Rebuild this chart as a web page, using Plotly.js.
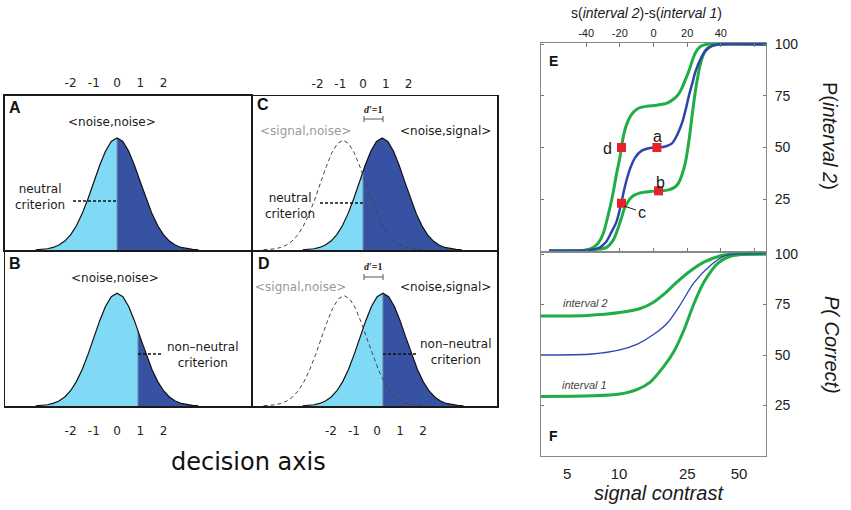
<!DOCTYPE html>
<html>
<head>
<meta charset="utf-8">
<script src="https://cdn.plot.ly/plotly-3.0.1.min.js"></script>
<style>html,body{margin:0;padding:0;background:#fff;}#chart{width:851px;height:510px;}</style>
</head>
<body>
<div id="chart"></div>
<script>
// ---------- data: decision-axis panels (A-D) ----------
const profileOffset = [-3.5,-3.25,-3,-2.75,-2.5,-2.25,-2,-1.75,-1.5,-1.25,-1,-0.75,-0.5,-0.25,0,0.25,0.5,0.75,1,1.25,1.5,1.75,2,2.25,2.5,2.75,3,3.25,3.5];
const profileHeight = [0.0022,0.0051,0.0111,0.0228,0.0439,0.0796,0.1353,0.2163,0.3247,0.4578,0.6065,0.7548,0.8825,0.9692,1,0.9692,0.8825,0.7548,0.6065,0.4578,0.3247,0.2163,0.1353,0.0796,0.0439,0.0228,0.0111,0.0051,0.0022];
const panelNames = ['A','C','B','D'];
const solidMean = [0, 0.84, 0, 0.26];
const criterion = [0, 0, 0.9, 0.26];
const criterionHeight = [1.0, 0.70, 0.667, 1.0];
const dashedMean = [null, -0.88, null, -1.43];
const dashedPeak = [null, 0.98, null, 0.98];
const decisionTicks = [-2,-1,0,1,2];
const decisionTickText = ['-2','-1','0','1','2'];

// ---------- data: panel E (x = s(interval 2)-s(interval 1), y = P(interval 2) %) ----------
const eBlueX = [-62,-40,-32,-28,-25,-22,-20,-19,-17,-14,-11,-7,-2,2,7,11,14,17,19,21,23,25,28,31,35,40,67];
const eBlueY = [0,0.2,1.5,4.5,9,14,20,23.5,31,39.5,45,48.5,49.8,50,50.5,52,56,62,68,75,81,87,93,97,99.3,100,100];
const eUpperX = [-62,-40,-36,-33,-30,-27,-24,-22,-20,-19,-18,-16,-13,-9,-4,2,8,12,15,17,19,21,23,25,28,32,67];
const eUpperY = [0,0.3,1.5,3.5,8,17,28,37,45,50,55,61,66,69,70,70.5,71.5,73.5,76,79,83,87,92,96,99,100,100];
const eLowerX = [-62,-40,-32,-28,-24,-21,-19,-17,-13,-8,-2,3,9,13,15,17,19,21,23,25,28,31,35,40,67];
const eLowerY = [0,0.2,0.8,1.5,5,11,16,21,26,28,28.7,29,29.5,31,33,37,43,53,66,78,91,97,99.3,100,100];
const pointLabels = ['a','b','c','d'];
const pointX = [2,3,-19,-19];
const pointY = [50,29,23,50];

// ---------- data: panel F (x = signal contrast, y = P(Correct) %) ----------
const fInt2X = [3.47,6.5,10.1,13.3,15.8,18.5,20.8,25.1,31.2,40.9,50,73.3];
const fInt2Y = [69.3,69.6,71,73,76,80.5,84.6,90.6,96,99.5,100,100];
const fMidX = [3.47,7.03,10.1,12.8,15.8,19.2,22.8,27.2,34.3,40.9,50,73.3];
const fMidY = [50,50.5,52.5,55.4,60,66,75,85.6,94.6,99,100,100];
const fInt1X = [3.47,7,10.1,12.8,15.2,18.1,20.8,23.8,27.2,31.2,37.7,45,73.3];
const fInt1Y = [29.5,29.8,30.7,33,36.6,44,51.5,62,75,86,95.5,99,100];
const contrastTicks = [5,10,25,50];
const pTicks = [25,50,75,100];
const diffTicks = [-40,-20,0,20,40,60];
const diffTickText = ['-40','-20','0','20','40',''];

// ---------- helpers ----------
const W = 851, H = 510;
const px = x => x / W;
const py = y => 1 - y / H;
const CYAN = '#80daf6', NAVY = '#3752a2', GREEN = '#1fae45', BLUE = '#2f45ad', RED = '#e8222c';
const traces = [];
const axisSuffix = ['', '2', '3', '4'];

panelNames.forEach((name, i) => {
  const xa = 'x' + axisSuffix[i], ya = 'y' + axisSuffix[i];
  const m = solidMean[i], c = criterion[i], hc = criterionHeight[i];
  const xs = profileOffset.map(o => m + o);
  const lx = [], ly = [], rx = [c], ry = [hc];
  xs.forEach((x, k) => {
    if (x < c - 1e-9) { lx.push(x); ly.push(profileHeight[k]); }
    else if (x > c + 1e-9) { rx.push(x); ry.push(profileHeight[k]); }
  });
  lx.push(c); ly.push(hc);
  traces.push({x: lx, y: ly, xaxis: xa, yaxis: ya, mode: 'lines', fill: 'tozeroy', fillcolor: CYAN, line: {width: 0, color: CYAN}, hoverinfo: 'skip'});
  traces.push({x: rx, y: ry, xaxis: xa, yaxis: ya, mode: 'lines', fill: 'tozeroy', fillcolor: NAVY, line: {width: 0, color: NAVY}, hoverinfo: 'skip'});
  traces.push({x: [c, c], y: [0, hc], xaxis: xa, yaxis: ya, mode: 'lines', line: {width: 1, color: '#6f86a8'}, hoverinfo: 'skip'});
  traces.push({x: xs, y: profileHeight, xaxis: xa, yaxis: ya, mode: 'lines', line: {width: 1.2, color: '#111'}, hoverinfo: 'skip'});
  if (dashedMean[i] !== null) {
    traces.push({x: profileOffset.map(o => dashedMean[i] + o), y: profileHeight.map(h => h * dashedPeak[i]),
      xaxis: xa, yaxis: ya, mode: 'lines', line: {width: 1, color: '#444', dash: '4px,3px'}, hoverinfo: 'skip'});
  }
});

// panel E
traces.push({x: eUpperX, y: eUpperY, xaxis: 'x5', yaxis: 'y5', mode: 'lines', line: {color: GREEN, width: 3, shape: 'spline', smoothing: 0.8}});
traces.push({x: eLowerX, y: eLowerY, xaxis: 'x5', yaxis: 'y5', mode: 'lines', line: {color: GREEN, width: 3, shape: 'spline', smoothing: 0.8}});
traces.push({x: eBlueX, y: eBlueY, xaxis: 'x5', yaxis: 'y5', mode: 'lines', line: {color: BLUE, width: 2.5, shape: 'spline', smoothing: 0.8}});
traces.push({x: pointX, y: pointY, xaxis: 'x5', yaxis: 'y5', mode: 'markers', marker: {symbol: 'square', size: 9, color: RED}, text: pointLabels, hoverinfo: 'text'});
// panel F
traces.push({x: fInt2X, y: fInt2Y, xaxis: 'x6', yaxis: 'y6', mode: 'lines', line: {color: GREEN, width: 3, shape: 'spline', smoothing: 0.8}});
traces.push({x: fInt1X, y: fInt1Y, xaxis: 'x6', yaxis: 'y6', mode: 'lines', line: {color: GREEN, width: 3, shape: 'spline', smoothing: 0.8}});
traces.push({x: fMidX, y: fMidY, xaxis: 'x6', yaxis: 'y6', mode: 'lines', line: {color: BLUE, width: 1.3, shape: 'spline', smoothing: 0.8}});

const LFONT = 'DejaVu Sans, sans-serif';
const RFONT = 'Liberation Sans, Arial, sans-serif';

function boxX(domain, range, side, standoff, lw) {
  return {domain: domain, range: range, side: side, tickvals: decisionTicks, ticktext: decisionTickText,
    showline: true, mirror: true, linecolor: '#1a1a1a', linewidth: lw, ticks: '', showgrid: false, zeroline: false,
    tickfont: {family: LFONT, size: 12, color: '#222'}, ticklabelstandoff: standoff, fixedrange: true};
}
function boxY(domain, lw) {
  return {domain: domain, range: [0, 1.375], showline: true, mirror: true, linecolor: '#1a1a1a', linewidth: lw,
    showticklabels: false, ticks: '', showgrid: false, zeroline: false, fixedrange: true};
}
const topDom = [py(250), py(96)], botDom = [py(406), py(251)];
const leftDom = [px(5), px(251)], midDom = [px(253), px(497)];

const layout = {
  width: W, height: H, margin: {l: 0, r: 0, t: 0, b: 0}, showlegend: false,
  paper_bgcolor: '#fff', plot_bgcolor: 'rgba(0,0,0,0)',
  xaxis: Object.assign(boxX(leftDom, [-4.82, 5.76], 'top', 2, 2), {anchor: 'y'}),
  yaxis: Object.assign(boxY(topDom, 2), {anchor: 'x'}),
  xaxis2: Object.assign(boxX(midDom, [-4.84, 5.89], 'top', 2, 1.5), {anchor: 'y2'}),
  yaxis2: Object.assign(boxY(topDom, 1.5), {anchor: 'x2'}),
  xaxis3: Object.assign(boxX(leftDom, [-4.82, 5.76], 'bottom', 13, 1.5), {anchor: 'y3'}),
  yaxis3: Object.assign(boxY(botDom, 1.5), {anchor: 'x3'}),
  xaxis4: Object.assign(boxX(midDom, [-5.39, 5.22], 'bottom', 13, 1.5), {anchor: 'y4'}),
  yaxis4: Object.assign(boxY(botDom, 1.5), {anchor: 'x4'}),
  xaxis5: {domain: [px(541), px(766)], range: [-66.8, 66.8], side: 'top', anchor: 'y5',
    tickvals: diffTicks, ticktext: diffTickText, ticks: 'inside', ticklen: 4, tickcolor: '#777',
    showline: true, mirror: 'ticks', linecolor: '#888', linewidth: 1, showgrid: false, zeroline: false,
    tickfont: {family: RFONT, size: 11, color: '#222'}, ticklabelstandoff: 1, fixedrange: true},
  yaxis5: {domain: [py(252), py(43)], range: [-0.6, 100.6], side: 'right', anchor: 'x5',
    tickvals: pTicks, ticks: 'inside', ticklen: 3, tickcolor: '#777',
    showline: true, mirror: 'ticks', linecolor: '#888', linewidth: 1, showgrid: false, zeroline: false,
    tickfont: {family: RFONT, size: 14, color: '#222'}, ticklabelstandoff: 5, fixedrange: true},
  xaxis6: {domain: [px(541), px(766)], type: 'log', range: [0.546, 1.856], side: 'bottom', anchor: 'y6',
    tickvals: contrastTicks, ticktext: contrastTicks.map(String), ticks: '',
    showline: true, mirror: true, linecolor: '#888', linewidth: 1, showgrid: false, zeroline: false,
    tickfont: {family: RFONT, size: 15, color: '#222'}, ticklabelstandoff: 4, fixedrange: true},
  yaxis6: {domain: [py(456), py(252)], range: [0, 101], side: 'right', anchor: 'x6',
    tickvals: pTicks, ticks: 'inside', ticklen: 3, tickcolor: '#777',
    showline: true, mirror: 'ticks', linecolor: '#888', linewidth: 1, showgrid: false, zeroline: false,
    tickfont: {family: RFONT, size: 14, color: '#222'}, ticklabelstandoff: 5, fixedrange: true},
  annotations: [],
  shapes: []
};

function ann(text, x, y, size, opts) {
  layout.annotations.push(Object.assign({text: text, x: px(x), y: py(y), xref: 'paper', yref: 'paper',
    showarrow: false, xanchor: 'center', yanchor: 'middle', align: 'center',
    font: {family: LFONT, size: size, color: '#1a1a1a'}}, opts || {}));
}
function seg(x0, y0, x1, y1, color, width, dash) {
  layout.shapes.push({type: 'line', xref: 'paper', yref: 'paper', x0: px(x0), y0: py(y0), x1: px(x1), y1: py(y1),
    line: {color: color, width: width, dash: dash || 'solid'}});
}
const bold = {font: {family: 'Liberation Sans, Arial, sans-serif', size: 16, color: '#111'}};
ann('<b>A</b>', 15, 107, 16, bold);
ann('<b>B</b>', 15, 263, 16, bold);
ann('<b>C</b>', 263, 105, 16, bold);
ann('<b>D</b>', 264, 263, 16, bold);
ann('<b>E</b>', 553, 61, 14, {font: {family: RFONT, size: 14, color: '#111'}});
ann('<b>F</b>', 553, 436, 14, {font: {family: RFONT, size: 14, color: '#111'}});

ann('&lt;noise,noise&gt;', 112, 122, 12);
ann('&lt;noise,noise&gt;', 115, 278, 12);
ann('&lt;signal,noise&gt;', 305, 131, 12, {font: {family: LFONT, size: 12, color: '#9a9a9a'}});
ann('&lt;noise,signal&gt;', 445, 131, 12);
ann('&lt;signal,noise&gt;', 300, 287, 12, {font: {family: LFONT, size: 12, color: '#9a9a9a'}});
ann('&lt;noise,signal&gt;', 445, 287, 12);
ann('neutral<br>criterion', 40, 197, 12);
ann('neutral<br>criterion', 290, 206, 12);
ann('non\u2013neutral<br>criterion', 202, 355, 12);
ann('non\u2013neutral<br>criterion', 455, 352, 12);
ann('<b><i>d\u2032</i>=1</b>', 373, 109, 10, {font: {family: 'Liberation Serif, serif', size: 10, color: '#222'}});
ann('<b><i>d\u2032</i>=1</b>', 373, 266, 10, {font: {family: 'Liberation Serif, serif', size: 10, color: '#222'}});
ann('decision axis', 248, 462, 24, {font: {family: LFONT, size: 24, color: '#111'}});

// criterion dashed lines
seg(73, 201, 117, 201, '#111', 1.5, '3px,2px');
seg(320, 203, 364, 203, '#111', 1.5, '3px,2px');
seg(138, 354, 163, 354, '#111', 1.5, '3px,2px');
seg(383, 354, 418, 354, '#111', 1.5, '3px,2px');
// d' scale bars
[119, 277].forEach(y => {
  seg(364, y, 383, y, '#555', 1);
  seg(364, y - 3, 364, y + 3, '#555', 1);
  seg(383, y - 3, 383, y + 3, '#555', 1);
});

// right panels text
ann('s(<i>interval 2</i>)-s(<i>interval 1</i>)', 646, 13, 14, {font: {family: RFONT, size: 14, color: '#1a1a1a'}});
ann('P(<i>interval 2</i>)', 830, 136, 20, {textangle: 90, font: {family: RFONT, size: 20, color: '#1a1a1a'}});
ann('<i>P( Correct)</i>', 832, 345, 20, {textangle: 90, font: {family: RFONT, size: 20, color: '#1a1a1a'}});
ann('<i>signal contrast</i>', 659, 493, 20, {font: {family: RFONT, size: 20, color: '#1a1a1a'}});
ann('<i>interval 2</i>', 585, 303, 11, {font: {family: RFONT, size: 11, color: '#444'}});
ann('<i>interval 1</i>', 584, 385, 11, {font: {family: RFONT, size: 11, color: '#444'}});
const lf = {font: {family: RFONT, size: 16, color: '#1a1a1a'}};
ann('a', 657, 137, 16, lf);
ann('b', 660, 182, 16, lf);
ann('c', 642, 212, 16, lf);
ann('d', 607, 148, 16, lf);
seg(624, 206, 636, 210, '#222', 1);

Plotly.newPlot('chart', traces, layout, {staticPlot: true});
</script>
</body>
</html>
